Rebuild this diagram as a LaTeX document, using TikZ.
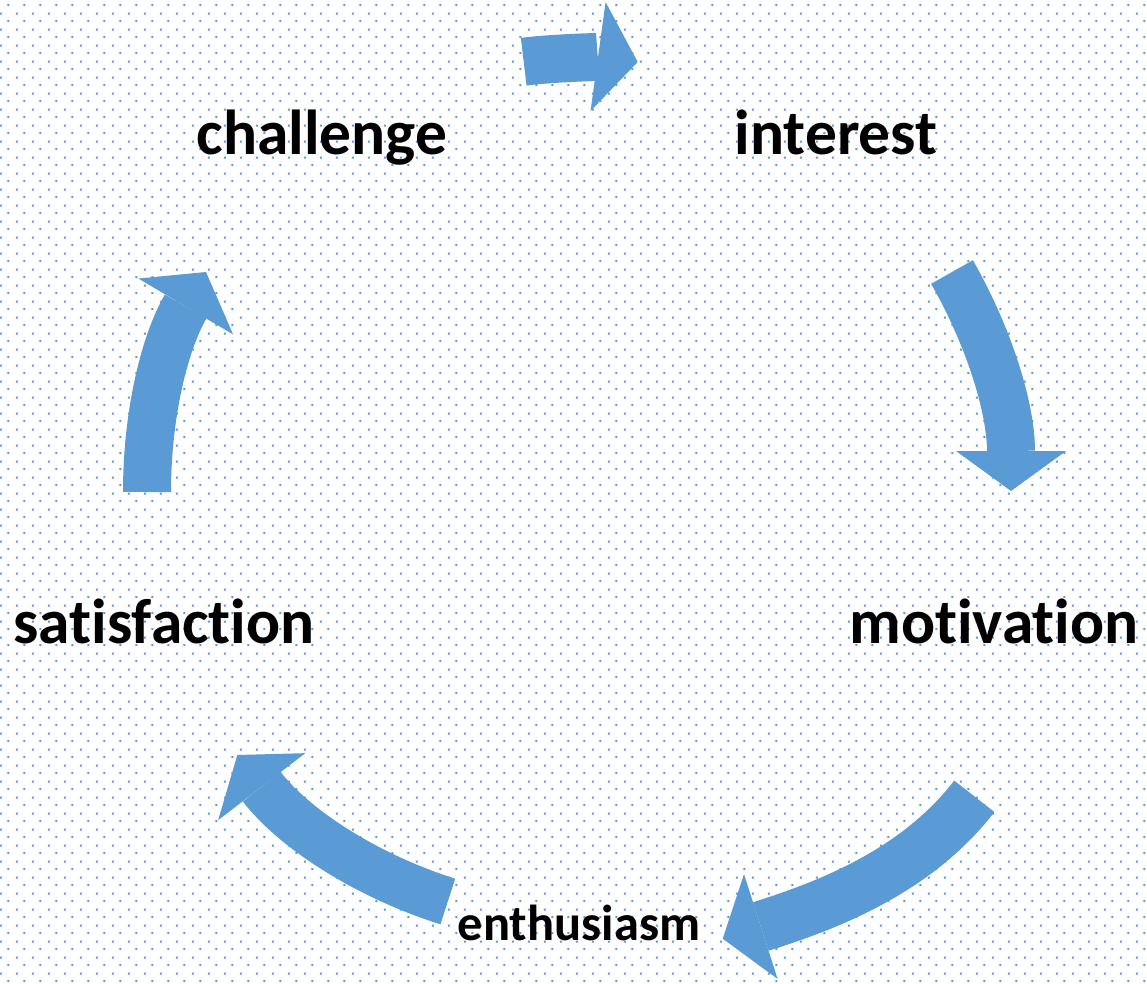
\documentclass[tikz,border=0pt]{standalone}
\usepackage{fontspec}
\setmainfont{Carlito}[Ligatures={NoCommon,NoDiscretionary}]
\usetikzlibrary{arrows.meta,patterns}
\definecolor{cycleblue}{HTML}{5B9BD5}
\pgfdeclarepatternformonly{bluedots}{\pgfpointorigin}{\pgfqpoint{16pt}{16pt}}{\pgfqpoint{16pt}{16pt}}{
  \pgfpathrectangle{\pgfqpoint{9pt}{2pt}}{\pgfqpoint{2pt}{2pt}}
  \pgfpathrectangle{\pgfqpoint{1pt}{10pt}}{\pgfqpoint{2pt}{2pt}}
  \pgfusepath{fill}}
\tikzstyle{stage}=[inner sep=0pt, anchor=base, font=\fontsize{63.5}{70}\selectfont\bfseries]

\begin{document}
\begin{tikzpicture}[x=1pt, y=-1pt,
    cyclearrow/.style={draw=cycleblue, line width=48pt, line cap=butt,
      -{Triangle[width=110pt, length=40pt, line width=0pt]}}]
  \useasboundingbox (0,0) rectangle (1147,983);
  \fill[white] (0,0) rectangle (1147,983);
  \fill[pattern=bluedots, pattern color=cycleblue] (0,0) rectangle (1147,983);

  % stages
  \node[stage] (challenge) at (322,154) {challenge};
  \node[stage] (interest) at (836,154) {interest};
  \node[stage] (motivation) at (994,643) {motivation};
  \node[stage, font=\fontsize{50.5}{60}\selectfont\bfseries] (enthusiasm) at (579,940) {enthusiasm};
  \node[stage] (satisfaction) at (164,643) {satisfaction};

  % arrow ends
  \coordinate (s1) at (523.7,61.7);  \coordinate (t1) at (637.7,62);
  \coordinate (s2) at (952,272);     \coordinate (t2) at (1011,491);
  \coordinate (s3) at (974.3,796.3); \coordinate (t3) at (722.7,938.7);
  \coordinate (s4) at (447.8,901.5); \coordinate (t4) at (237.3,755);
  \coordinate (s5) at (147,492);     \coordinate (t5) at (206,272);

  \draw[cyclearrow] (s1) .. controls (558.4,57.4) and (603,57.2) .. (t1);
  \draw[cyclearrow] (s2) .. controls (991.5,341.5) and (1011,411) .. (t2);
  \draw[cyclearrow, line width=51pt] (s3) .. controls (913.3,875.6) and (817.9,908.2) .. (t3);
  \draw[cyclearrow] (s4) .. controls (362,874.2) and (292.2,826.3) .. (t4);
  \draw[cyclearrow] (s5) .. controls (147,412) and (165.4,340.9) .. (t5);
\end{tikzpicture}
\end{document}
